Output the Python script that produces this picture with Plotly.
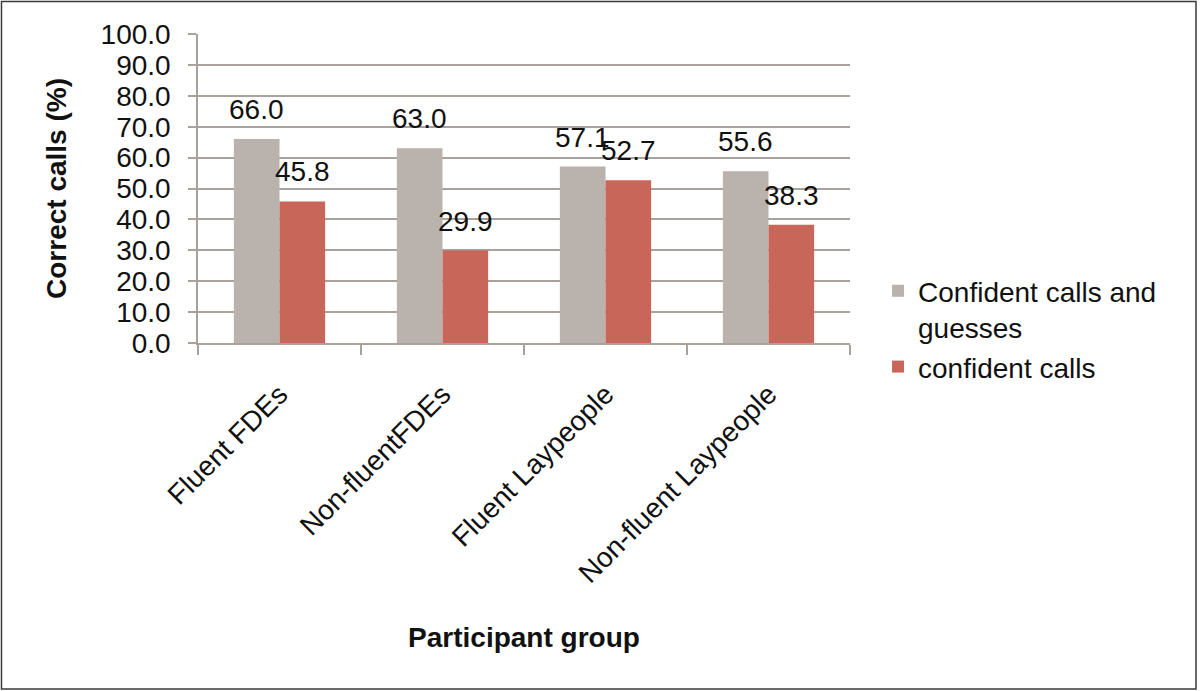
import plotly.graph_objects as go

groups = ["Fluent FDEs", "Non-fluentFDEs", "Fluent Laypeople", "Non-fluent Laypeople"]
calls_and_guesses = [66.0, 63.0, 57.1, 55.6]
confident_calls = [45.8, 29.9, 52.7, 38.3]

y_ticks = [0, 10, 20, 30, 40, 50, 60, 70, 80, 90, 100]

FONT = "Arial, Liberation Sans, sans-serif"
GRID = "#a8a19c"
FS = 28

fig = go.Figure()
fig.add_trace(go.Bar(name="Confident calls and<br>guesses", x=groups, y=calls_and_guesses,
                     marker_color="#bab2ad"))
fig.add_trace(go.Bar(name="confident calls", x=groups, y=confident_calls,
                     marker_color="#c9665a"))
fig.update_traces(marker_line_width=0)

# value labels above each bar (offset to sit over the grouped bars)
for vals, dx in [(calls_and_guesses, -23), (confident_calls, 23)]:
    for g, v in zip(groups, vals):
        fig.add_annotation(x=g, y=v, text=f"{v:.1f}", showarrow=False,
                           xshift=dx, yshift=12, yanchor="bottom",
                           font=dict(size=FS, color="#111111"))

fig.update_layout(
    width=1200, height=691,
    barmode="group", bargap=0.44, bargroupgap=0,
    plot_bgcolor="white", paper_bgcolor="white",
    font=dict(family=FONT, size=FS, color="#111111"),
    margin=dict(l=198, r=350, t=34, b=348, autoexpand=False),
    legend=dict(x=1.043, y=0.045, yanchor="middle", xanchor="left",
                font=dict(size=FS), valign="top"),
    shapes=[dict(type="rect", xref="paper", yref="paper",
                 x0=-0.3014, x1=1.5307, y0=-1.1197, y1=1.105,
                 line=dict(color="#3a3a3a", width=1.5))],
)
fig.update_yaxes(
    range=[0, 100], tickvals=y_ticks, tickformat=".1f",
    showgrid=True, gridcolor=GRID, gridwidth=1.5,
    showline=True, linecolor=GRID, linewidth=1.5,
    ticks="outside", ticklen=8, tickcolor=GRID, tickwidth=1.5,
    ticklabelstandoff=12, zeroline=False, tickfont=dict(size=FS),
    title=dict(text="<b>Correct calls (%)</b>", font=dict(size=FS), standoff=26),
)
fig.update_xaxes(
    showline=True, linecolor=GRID, linewidth=1.5,
    ticks="outside", tickson="boundaries", ticklen=10, tickcolor=GRID, tickwidth=1.5,
    tickangle=-45, tickfont=dict(size=FS), ticklabelstandoff=22,
    title=dict(text="<b>Participant group</b>", font=dict(size=FS), standoff=40),
)

fig.write_html("out.html", config={"displayModeBar": False},
               post_script="document.body.style.margin='0';")
